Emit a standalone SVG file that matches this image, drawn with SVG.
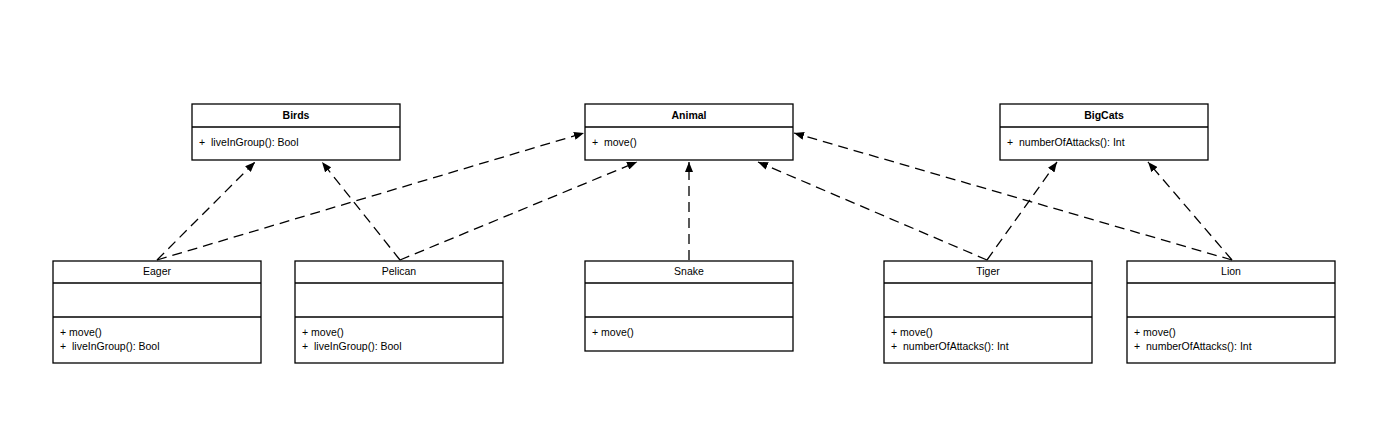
<svg xmlns="http://www.w3.org/2000/svg" width="1400" height="439" viewBox="0 0 1400 439">
<style>
.box{fill:#fff;stroke:#000;stroke-width:1.3}
.div{stroke:#000;stroke-width:1.3}
.t{font-family:"Liberation Sans",Arial,sans-serif;font-size:10.5px;fill:#000;white-space:pre}
.b{font-weight:bold;text-anchor:middle}
.c{text-anchor:middle}
.e{fill:none;stroke:#000;stroke-width:1.3;stroke-dasharray:10 6}
</style>
<defs>
<marker id="ah" viewBox="0 0 10 8" refX="10" refY="4" markerWidth="10" markerHeight="8" markerUnits="userSpaceOnUse" orient="auto">
<path d="M0,0 L10,4 L0,8 Z" fill="#000"/>
</marker>
</defs>
<rect width="1400" height="439" fill="#fff"/>
<g id="connectors">
<line class="e" x1="157" y1="260" x2="255" y2="162" marker-end="url(#ah)"/>
<line class="e" x1="157" y1="260" x2="584" y2="133" marker-end="url(#ah)"/>
<line class="e" x1="400" y1="260" x2="322" y2="162" marker-end="url(#ah)"/>
<line class="e" x1="400" y1="260" x2="637" y2="162" marker-end="url(#ah)"/>
<line class="e" x1="689" y1="260" x2="689" y2="162" marker-end="url(#ah)"/>
<line class="e" x1="987" y1="260" x2="758" y2="162" marker-end="url(#ah)"/>
<line class="e" x1="987" y1="260" x2="1057" y2="162" marker-end="url(#ah)"/>
<line class="e" x1="1232" y1="260" x2="794" y2="133" marker-end="url(#ah)"/>
<line class="e" x1="1232" y1="260" x2="1148" y2="162" marker-end="url(#ah)"/>
</g>
<g id="birds">
<rect class="box" x="192" y="104" width="208" height="56"/>
<line class="div" x1="192" y1="127" x2="400" y2="127"/>
<text class="t b" x="296" y="119">Birds</text>
<text class="t" x="199" y="146">+  liveInGroup(): Bool</text>
</g>
<g id="animal">
<rect class="box" x="585" y="104" width="208" height="56"/>
<line class="div" x1="585" y1="127" x2="793" y2="127"/>
<text class="t b" x="689" y="119">Animal</text>
<text class="t" x="592" y="146">+  move()</text>
</g>
<g id="bigcats">
<rect class="box" x="1000" y="104" width="208" height="56"/>
<line class="div" x1="1000" y1="127" x2="1208" y2="127"/>
<text class="t b" x="1104" y="119">BigCats</text>
<text class="t" x="1007" y="146">+  numberOfAttacks(): Int</text>
</g>
<g id="eager">
<rect class="box" x="53" y="261" width="208" height="102"/>
<line class="div" x1="53" y1="283" x2="261" y2="283"/>
<line class="div" x1="53" y1="317" x2="261" y2="317"/>
<text class="t c" x="157" y="275">Eager</text>
<text class="t" x="60" y="336">+ move()</text>
<text class="t" x="60" y="350">+  liveInGroup(): Bool</text>
</g>
<g id="pelican">
<rect class="box" x="295" y="261" width="208" height="102"/>
<line class="div" x1="295" y1="283" x2="503" y2="283"/>
<line class="div" x1="295" y1="317" x2="503" y2="317"/>
<text class="t c" x="399" y="275">Pelican</text>
<text class="t" x="302" y="336">+ move()</text>
<text class="t" x="302" y="350">+  liveInGroup(): Bool</text>
</g>
<g id="snake">
<rect class="box" x="585" y="261" width="208" height="90"/>
<line class="div" x1="585" y1="283" x2="793" y2="283"/>
<line class="div" x1="585" y1="317" x2="793" y2="317"/>
<text class="t c" x="689" y="275">Snake</text>
<text class="t" x="592" y="336">+ move()</text>
</g>
<g id="tiger">
<rect class="box" x="884" y="261" width="208" height="102"/>
<line class="div" x1="884" y1="283" x2="1092" y2="283"/>
<line class="div" x1="884" y1="317" x2="1092" y2="317"/>
<text class="t c" x="988" y="275">Tiger</text>
<text class="t" x="891" y="336">+ move()</text>
<text class="t" x="891" y="350">+  numberOfAttacks(): Int</text>
</g>
<g id="lion">
<rect class="box" x="1127" y="261" width="208" height="102"/>
<line class="div" x1="1127" y1="283" x2="1335" y2="283"/>
<line class="div" x1="1127" y1="317" x2="1335" y2="317"/>
<text class="t c" x="1231" y="275">Lion</text>
<text class="t" x="1134" y="336">+ move()</text>
<text class="t" x="1134" y="350">+  numberOfAttacks(): Int</text>
</g>
</svg>
